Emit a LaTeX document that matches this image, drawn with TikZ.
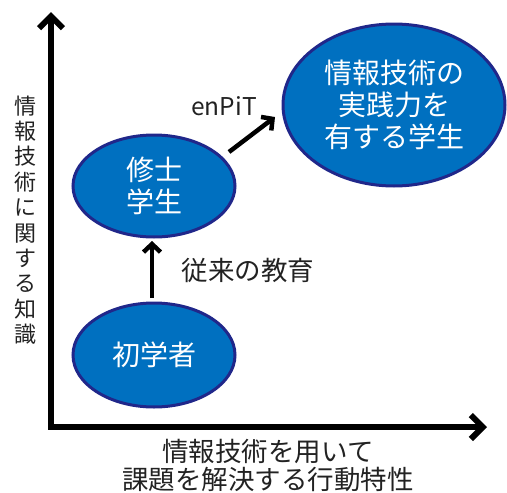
\documentclass[tikz,border=0pt]{standalone}
\usepackage{fontspec}
\setmainfont{Noto Sans CJK JP}
\usetikzlibrary{shapes.geometric,arrows.meta}
\definecolor{ellfill}{HTML}{0070C0}
\definecolor{elldraw}{HTML}{20278A}
\definecolor{labtext}{HTML}{222222}
\begin{document}
\begin{tikzpicture}[x=1pt,y=-1pt,
  ell/.style={ellipse,draw=elldraw,line width=3pt,fill=ellfill,inner sep=0pt,
    text=white,align=center,font=\fontsize{28}{32}\selectfont},
  axisline/.style={line width=6pt,-{Straight Barb[length=12pt,width=24pt,line width=6pt]},line join=miter},
  conn/.style={line width=4.5pt,-{Straight Barb[length=8pt,width=17pt,line width=4.5pt]}},
  lab/.style={text=labtext,font=\fontsize{26.5}{28}\selectfont,align=center}]
\useasboundingbox (0,0) rectangle (507,493);
% axes
\coordinate (ytop) at (51,12);
\coordinate (orig) at (51,427);
\coordinate (xend) at (487,427);
\draw[axisline] ([xshift=0pt]orig) -- (ytop);
\draw[axisline] ([xshift=-3pt]orig) -- (xend);
% ellipses
\node[ell,minimum width=222pt,minimum height=162pt] (big) at (394,105) {情報技術の\\実践力を\\有する学生};
\node[ell,minimum width=162pt,minimum height=102pt] (mid) at (154,186) {修士\\学生};
\node[ell,minimum width=162pt,minimum height=104pt] (low) at (154,355) {初学者};
% connectors
\coordinate (v1) at (152,298);
\coordinate (v2) at (152,241);
\draw[conn] (v1) -- (v2);
\coordinate (e1) at (229,152);
\coordinate (e2) at (275,117);
\draw[conn] (e1) -- (e2);
% labels
\node[lab,anchor=west] (l1) at (178,270) {従来の教育};
\node[lab,font=\fontsize{24.5}{28}\selectfont] (l2) at (224,106) {enPiT};
\node[lab,font=\fontsize{22}{25.4}\selectfont] (ylab) at (26,220) {情\\報\\技\\術\\に\\関\\す\\る\\知\\識};
\node[lab] (xlab) at (268,465) {情報技術を用いて\\課題を解決する行動特性};
\end{tikzpicture}
\end{document}
